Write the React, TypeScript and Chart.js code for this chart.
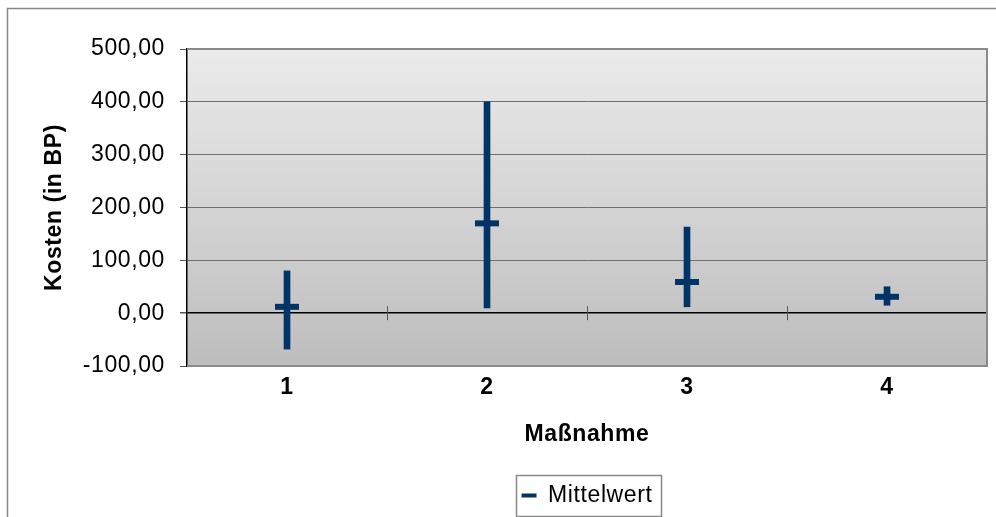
import React, { useEffect, useRef } from "react";
import { Chart, registerables } from "chart.js";

Chart.register(...registerables);

const categories = ["1", "2", "3", "4"];
const lowValues = [-68, 10, 12, 15];
const highValues = [80, 400, 163, 50];
const meanValues = [12, 170, 59, 31];
const yMin = -100;
const yMax = 500;
const yStep = 100;

const FONT = "'Liberation Sans', Arial, sans-serif";
const NAVY = "#003366";
const SPACING = "0.6px";
const FS = 23;

const decorPlugin = {
  id: "decor",
  beforeUpdate(chart: any) {
    chart.ctx.letterSpacing = SPACING;
  },
  beforeDraw(chart: any) {
    const { ctx, chartArea } = chart;
    ctx.letterSpacing = SPACING;
    const { left, top, right, bottom } = chartArea;
    ctx.save();
    ctx.strokeStyle = "#888888";
    ctx.lineWidth = 1.5;
    ctx.beginPath();
    ctx.moveTo(7.5, chart.height + 10);
    ctx.lineTo(7.5, 8.5);
    ctx.lineTo(chart.width + 10, 8.5);
    ctx.stroke();
    const g = ctx.createLinearGradient(0, top, 0, bottom);
    g.addColorStop(0, "#ebebeb");
    g.addColorStop(1, "#bdbdbd");
    ctx.fillStyle = g;
    ctx.fillRect(left, top, right - left, bottom - top);
    ctx.restore();
  },
  afterDatasetsDraw(chart: any) {
    const { ctx, chartArea, scales } = chart;
    const { left, top, right, bottom } = chartArea;
    ctx.save();
    ctx.strokeStyle = "#8a8a8a";
    ctx.lineWidth = 2;
    ctx.beginPath();
    ctx.moveTo(left, top);
    ctx.lineTo(right, top);
    ctx.lineTo(right, bottom);
    ctx.lineTo(left, bottom);
    ctx.stroke();
    const xs = scales.x;
    const y0 = scales.y.getPixelForValue(0);
    ctx.strokeStyle = "#555555";
    ctx.lineWidth = 1;
    for (let i = 1; i < categories.length; i++) {
      const xm = Math.round((xs.getPixelForValue(i - 1) + xs.getPixelForValue(i)) / 2) + 0.5;
      ctx.beginPath();
      ctx.moveTo(xm, y0 - 7);
      ctx.lineTo(xm, y0 + 7);
      ctx.stroke();
    }
    ctx.restore();
  },
  afterDraw(chart: any) {
    const lg = chart.legend;
    if (!lg || !lg.legendHitBoxes || !lg.legendHitBoxes.length) return;
    const hb = lg.legendHitBoxes[0];
    const { ctx } = chart;
    ctx.save();
    ctx.strokeStyle = "#888888";
    ctx.lineWidth = 1.5;
    const x0 = Math.round(hb.left - 6) + 0.5;
    const y0 = Math.round(hb.top - 9) + 0.5;
    const w = Math.round(hb.width + 14);
    const h = Math.round(hb.height + 18);
    ctx.strokeRect(x0, y0, w, h);
    ctx.restore();
  },
};

export default function App() {
  const ref = useRef<HTMLCanvasElement | null>(null);

  useEffect(() => {
    if (!ref.current) return;
    const chart = new Chart(ref.current, {
      data: {
        labels: categories,
        datasets: [
          {
            type: "bar",
            label: "Spanne",
            data: lowValues.map((lo, i) => [lo, highValues[i]]) as any,
            backgroundColor: NAVY,
            borderWidth: 0,
            barThickness: 6,
            order: 1,
          },
          {
            type: "line",
            label: "Mittelwert",
            data: meanValues,
            showLine: false,
            pointStyle: "line",
            pointRadius: 12,
            pointHoverRadius: 12,
            pointBorderWidth: 6,
            borderColor: NAVY,
            backgroundColor: NAVY,
            order: 0,
          },
        ] as any,
      },
      options: {
        animation: false,
        responsive: true,
        maintainAspectRatio: false,
        layout: { autoPadding: false, padding: { top: 49, right: 9, left: 0, bottom: 0 } },
        scales: {
          x: {
            type: "category",
            offset: true,
            grid: { display: false, drawTicks: false },
            border: { display: false },
            ticks: {
              color: "#000",
              padding: 8,
              font: { family: FONT, size: FS, weight: "bold" },
            },
            title: {
              display: true,
              text: "Maßnahme",
              color: "#000",
              font: { family: FONT, size: FS, weight: "bold" },
              padding: { top: 0, bottom: 26 },
            },
            afterFit(scale: any) {
              scale.height = 108;
              scale.paddingLeft = 0;
              scale.paddingRight = 0;
            },
          },
          y: {
            min: yMin,
            max: yMax,
            ticks: {
              stepSize: yStep,
              color: "#000",
              padding: 15,
              font: { family: FONT, size: FS },
              callback: (v: any) => Number(v).toFixed(2).replace(".", ","),
            },
            grid: {
              color: (c: any) => (c.tick && c.tick.value === 0 ? "#000000" : "#6f6f6f"),
              lineWidth: (c: any) => (c.tick && c.tick.value === 0 ? 1.5 : 1),
              tickColor: "#555555",
              tickLength: 7,
            },
            border: { display: true, color: "#000", width: 1.5 },
            title: {
              display: true,
              text: "Kosten (in BP)",
              color: "#000",
              font: { family: FONT, size: FS, weight: "bold" },
              padding: { top: 41, bottom: 0 },
            },
            afterFit(scale: any) {
              scale.width = 187;
            },
          },
        },
        plugins: {
          title: { display: false },
          tooltip: { enabled: false },
          legend: {
            display: true,
            position: "bottom",
            fullSize: false,
            labels: {
              color: "#000",
              font: { family: FONT, size: FS },
              padding: 10,
              usePointStyle: true,
              pointStyle: "line",
              pointStyleWidth: 15,
              filter: (item: any) => item.datasetIndex === 1,
              generateLabels: (ch: any) =>
                Chart.defaults.plugins.legend.labels
                  .generateLabels(ch)
                  .map((l: any) => ({ ...l, lineWidth: 4, strokeStyle: NAVY })),
            },
          },
        },
      } as any,
      plugins: [decorPlugin],
    });
    return () => chart.destroy();
  }, []);

  return (
    <div style={{ position: "absolute", left: 0, top: 0, width: 996, height: 517, background: "#fff" }}>
      <canvas ref={ref} />
    </div>
  );
}
